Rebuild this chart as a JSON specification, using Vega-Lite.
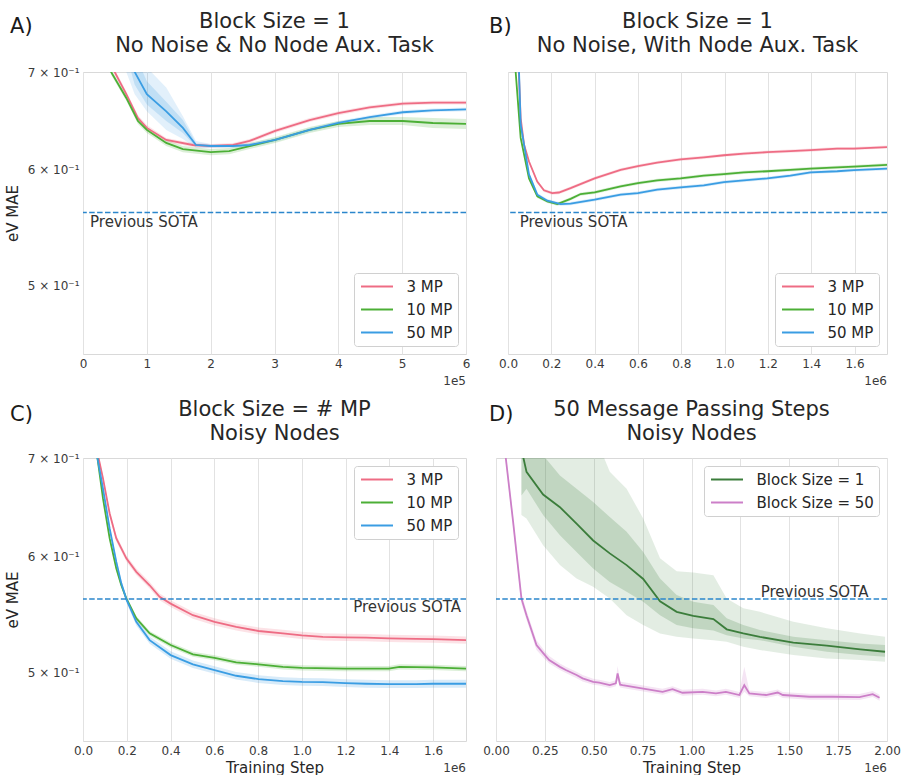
{
"$schema": "https://vega.github.io/schema/vega-lite/v6.json",
"padding": {"left": 4, "top": 10, "right": 5, "bottom": 5},
"background": "white",
"datasets": {
"A": [
{"s":"3 MP","x":0,"y":1.05,"lo":1.04,"hi":1.06},
{"s":"3 MP","x":25000,"y":0.82,"lo":0.815,"hi":0.825},
{"s":"3 MP","x":49600,"y":0.7,"lo":0.697,"hi":0.703},
{"s":"3 MP","x":67800,"y":0.676,"lo":0.673,"hi":0.679},
{"s":"3 MP","x":86100,"y":0.651,"lo":0.648,"hi":0.654},
{"s":"3 MP","x":100000,"y":0.641,"lo":0.638,"hi":0.644},
{"s":"3 MP","x":130400,"y":0.629,"lo":0.627,"hi":0.631},
{"s":"3 MP","x":172000,"y":0.624,"lo":0.622,"hi":0.626},
{"s":"3 MP","x":200000,"y":0.623,"lo":0.621,"hi":0.625},
{"s":"3 MP","x":235000,"y":0.624,"lo":0.622,"hi":0.626},
{"s":"3 MP","x":261000,"y":0.628,"lo":0.626,"hi":0.63},
{"s":"3 MP","x":301000,"y":0.638,"lo":0.636,"hi":0.64},
{"s":"3 MP","x":355000,"y":0.649,"lo":0.647,"hi":0.651},
{"s":"3 MP","x":400000,"y":0.656,"lo":0.654,"hi":0.658},
{"s":"3 MP","x":449000,"y":0.662,"lo":0.66,"hi":0.664},
{"s":"3 MP","x":501000,"y":0.666,"lo":0.664,"hi":0.668},
{"s":"3 MP","x":548000,"y":0.667,"lo":0.665,"hi":0.669},
{"s":"3 MP","x":600000,"y":0.667,"lo":0.665,"hi":0.669},
{"s":"10 MP","x":0,"y":1.05,"lo":1.04,"hi":1.06},
{"s":"10 MP","x":25000,"y":0.8,"lo":0.795,"hi":0.805},
{"s":"10 MP","x":44000,"y":0.7,"lo":0.697,"hi":0.703},
{"s":"10 MP","x":67800,"y":0.672,"lo":0.669,"hi":0.675},
{"s":"10 MP","x":86100,"y":0.648,"lo":0.645,"hi":0.651},
{"s":"10 MP","x":100000,"y":0.639,"lo":0.636,"hi":0.642},
{"s":"10 MP","x":130400,"y":0.626,"lo":0.623,"hi":0.629},
{"s":"10 MP","x":156500,"y":0.62,"lo":0.617,"hi":0.623},
{"s":"10 MP","x":200000,"y":0.617,"lo":0.614,"hi":0.62},
{"s":"10 MP","x":229000,"y":0.618,"lo":0.615,"hi":0.621},
{"s":"10 MP","x":261000,"y":0.623,"lo":0.62,"hi":0.626},
{"s":"10 MP","x":301000,"y":0.629,"lo":0.626,"hi":0.632},
{"s":"10 MP","x":355000,"y":0.639,"lo":0.636,"hi":0.642},
{"s":"10 MP","x":400000,"y":0.645,"lo":0.642,"hi":0.648},
{"s":"10 MP","x":449000,"y":0.648,"lo":0.644,"hi":0.652},
{"s":"10 MP","x":501000,"y":0.648,"lo":0.644,"hi":0.652},
{"s":"10 MP","x":548000,"y":0.646,"lo":0.641,"hi":0.651},
{"s":"10 MP","x":600000,"y":0.645,"lo":0.64,"hi":0.65},
{"s":"50 MP","x":0,"y":1.2,"lo":1.15,"hi":1.25},
{"s":"50 MP","x":50000,"y":0.8,"lo":0.76,"hi":0.86,"lo2":0.78,"hi2":0.83},
{"s":"50 MP","x":67800,"y":0.74,"lo":0.7,"hi":0.79,"lo2":0.72,"hi2":0.77},
{"s":"50 MP","x":81000,"y":0.7,"lo":0.676,"hi":0.74,"lo2":0.686,"hi2":0.72},
{"s":"50 MP","x":100000,"y":0.676,"lo":0.658,"hi":0.705,"lo2":0.665,"hi2":0.69},
{"s":"50 MP","x":130400,"y":0.658,"lo":0.639,"hi":0.683,"lo2":0.648,"hi2":0.668},
{"s":"50 MP","x":156500,"y":0.641,"lo":0.63,"hi":0.653,"lo2":0.636,"hi2":0.649},
{"s":"50 MP","x":177000,"y":0.624,"lo":0.621,"hi":0.628,"lo2":0.622,"hi2":0.626},
{"s":"50 MP","x":200000,"y":0.623,"lo":0.621,"hi":0.625},
{"s":"50 MP","x":235000,"y":0.623,"lo":0.621,"hi":0.625},
{"s":"50 MP","x":261000,"y":0.624,"lo":0.622,"hi":0.626},
{"s":"50 MP","x":301000,"y":0.629,"lo":0.627,"hi":0.631},
{"s":"50 MP","x":355000,"y":0.639,"lo":0.637,"hi":0.641},
{"s":"50 MP","x":400000,"y":0.646,"lo":0.644,"hi":0.648},
{"s":"50 MP","x":449000,"y":0.652,"lo":0.65,"hi":0.654},
{"s":"50 MP","x":501000,"y":0.657,"lo":0.655,"hi":0.659},
{"s":"50 MP","x":548000,"y":0.659,"lo":0.657,"hi":0.661},
{"s":"50 MP","x":600000,"y":0.66,"lo":0.658,"hi":0.662}
],
"B": [
{"s":"3 MP","x":0,"y":1.6,"lo":1.59,"hi":1.61},
{"s":"3 MP","x":50000,"y":0.7,"lo":0.698,"hi":0.702},
{"s":"3 MP","x":58500,"y":0.651,"lo":0.649,"hi":0.653},
{"s":"3 MP","x":74000,"y":0.6245,"lo":0.623,"hi":0.626},
{"s":"3 MP","x":97000,"y":0.608,"lo":0.6065,"hi":0.6095},
{"s":"3 MP","x":135000,"y":0.589,"lo":0.5875,"hi":0.5905},
{"s":"3 MP","x":166000,"y":0.581,"lo":0.5795,"hi":0.5825},
{"s":"3 MP","x":204000,"y":0.5785,"lo":0.577,"hi":0.58},
{"s":"3 MP","x":235000,"y":0.579,"lo":0.5775,"hi":0.5805},
{"s":"3 MP","x":289000,"y":0.583,"lo":0.5815,"hi":0.5845},
{"s":"3 MP","x":400000,"y":0.592,"lo":0.5905,"hi":0.5935},
{"s":"3 MP","x":520000,"y":0.6,"lo":0.5985,"hi":0.6015},
{"s":"3 MP","x":600000,"y":0.6035,"lo":0.602,"hi":0.605},
{"s":"3 MP","x":689000,"y":0.607,"lo":0.6055,"hi":0.6085},
{"s":"3 MP","x":797000,"y":0.61,"lo":0.6085,"hi":0.6115},
{"s":"3 MP","x":904000,"y":0.612,"lo":0.6105,"hi":0.6135},
{"s":"3 MP","x":997000,"y":0.614,"lo":0.6125,"hi":0.6155},
{"s":"3 MP","x":1089000,"y":0.6156,"lo":0.6141,"hi":0.6171},
{"s":"3 MP","x":1197000,"y":0.617,"lo":0.6155,"hi":0.6185},
{"s":"3 MP","x":1304000,"y":0.618,"lo":0.6165,"hi":0.6195},
{"s":"3 MP","x":1397000,"y":0.619,"lo":0.6175,"hi":0.6205},
{"s":"3 MP","x":1520000,"y":0.6205,"lo":0.619,"hi":0.622},
{"s":"3 MP","x":1597000,"y":0.6205,"lo":0.619,"hi":0.622},
{"s":"3 MP","x":1750000,"y":0.622,"lo":0.6205,"hi":0.6235},
{"s":"10 MP","x":0,"y":1.6,"lo":1.59,"hi":1.61},
{"s":"10 MP","x":35400,"y":0.7,"lo":0.698,"hi":0.702},
{"s":"10 MP","x":58500,"y":0.631,"lo":0.629,"hi":0.633},
{"s":"10 MP","x":97000,"y":0.592,"lo":0.5905,"hi":0.5935},
{"s":"10 MP","x":135400,"y":0.5755,"lo":0.574,"hi":0.577},
{"s":"10 MP","x":181500,"y":0.571,"lo":0.5695,"hi":0.5725},
{"s":"10 MP","x":227700,"y":0.5685,"lo":0.567,"hi":0.57},
{"s":"10 MP","x":289000,"y":0.5733,"lo":0.5718,"hi":0.5748},
{"s":"10 MP","x":335400,"y":0.5776,"lo":0.5761,"hi":0.5791},
{"s":"10 MP","x":400000,"y":0.5792,"lo":0.5777,"hi":0.5807},
{"s":"10 MP","x":520000,"y":0.5847,"lo":0.5832,"hi":0.5862},
{"s":"10 MP","x":600000,"y":0.5877,"lo":0.5862,"hi":0.5892},
{"s":"10 MP","x":689000,"y":0.5902,"lo":0.5887,"hi":0.5917},
{"s":"10 MP","x":797000,"y":0.592,"lo":0.5905,"hi":0.5935},
{"s":"10 MP","x":904000,"y":0.5946,"lo":0.5931,"hi":0.5961},
{"s":"10 MP","x":997000,"y":0.5961,"lo":0.5946,"hi":0.5976},
{"s":"10 MP","x":1089000,"y":0.5977,"lo":0.5962,"hi":0.5992},
{"s":"10 MP","x":1197000,"y":0.5987,"lo":0.5972,"hi":0.6002},
{"s":"10 MP","x":1304000,"y":0.6,"lo":0.5985,"hi":0.6015},
{"s":"10 MP","x":1397000,"y":0.6012,"lo":0.5997,"hi":0.6027},
{"s":"10 MP","x":1520000,"y":0.6024,"lo":0.6009,"hi":0.6039},
{"s":"10 MP","x":1597000,"y":0.6031,"lo":0.6016,"hi":0.6046},
{"s":"10 MP","x":1750000,"y":0.6047,"lo":0.6032,"hi":0.6062},
{"s":"50 MP","x":0,"y":1.6,"lo":1.59,"hi":1.61},
{"s":"50 MP","x":51000,"y":0.7,"lo":0.698,"hi":0.702},
{"s":"50 MP","x":58500,"y":0.6445,"lo":0.6425,"hi":0.6465},
{"s":"50 MP","x":97000,"y":0.5957,"lo":0.5942,"hi":0.5972},
{"s":"50 MP","x":135400,"y":0.577,"lo":0.5755,"hi":0.5785},
{"s":"50 MP","x":181500,"y":0.5716,"lo":0.5701,"hi":0.5731},
{"s":"50 MP","x":243000,"y":0.5685,"lo":0.567,"hi":0.57},
{"s":"50 MP","x":289000,"y":0.569,"lo":0.5675,"hi":0.5705},
{"s":"50 MP","x":400000,"y":0.5725,"lo":0.571,"hi":0.574},
{"s":"50 MP","x":520000,"y":0.577,"lo":0.5755,"hi":0.5785},
{"s":"50 MP","x":600000,"y":0.5785,"lo":0.577,"hi":0.58},
{"s":"50 MP","x":689000,"y":0.5816,"lo":0.5801,"hi":0.5831},
{"s":"50 MP","x":797000,"y":0.5837,"lo":0.5822,"hi":0.5852},
{"s":"50 MP","x":904000,"y":0.5856,"lo":0.5841,"hi":0.5871},
{"s":"50 MP","x":997000,"y":0.5886,"lo":0.5871,"hi":0.5901},
{"s":"50 MP","x":1089000,"y":0.5902,"lo":0.5887,"hi":0.5917},
{"s":"50 MP","x":1197000,"y":0.592,"lo":0.5905,"hi":0.5935},
{"s":"50 MP","x":1304000,"y":0.5946,"lo":0.5931,"hi":0.5961},
{"s":"50 MP","x":1397000,"y":0.5977,"lo":0.5962,"hi":0.5992},
{"s":"50 MP","x":1520000,"y":0.5987,"lo":0.5972,"hi":0.6002},
{"s":"50 MP","x":1597000,"y":0.5997,"lo":0.5982,"hi":0.6012},
{"s":"50 MP","x":1750000,"y":0.6012,"lo":0.5997,"hi":0.6027}
],
"C": [
{"s":"3 MP","x":0,"y":1.3,"lo":1.29,"hi":1.31},
{"s":"3 MP","x":68500,"y":0.703,"lo":0.7,"hi":0.706},
{"s":"3 MP","x":91300,"y":0.678,"lo":0.675,"hi":0.681},
{"s":"3 MP","x":121800,"y":0.6416,"lo":0.6386,"hi":0.6446},
{"s":"3 MP","x":152200,"y":0.617,"lo":0.614,"hi":0.62},
{"s":"3 MP","x":197900,"y":0.598,"lo":0.595,"hi":0.601},
{"s":"3 MP","x":243500,"y":0.5855,"lo":0.5825,"hi":0.5885},
{"s":"3 MP","x":304400,"y":0.5733,"lo":0.5703,"hi":0.5763},
{"s":"3 MP","x":350000,"y":0.563,"lo":0.56,"hi":0.566},
{"s":"3 MP","x":400300,"y":0.557,"lo":0.554,"hi":0.56},
{"s":"3 MP","x":502300,"y":0.547,"lo":0.544,"hi":0.55},
{"s":"3 MP","x":601200,"y":0.5413,"lo":0.5383,"hi":0.5443},
{"s":"3 MP","x":700000,"y":0.537,"lo":0.534,"hi":0.54},
{"s":"3 MP","x":802100,"y":0.5336,"lo":0.5306,"hi":0.5366},
{"s":"3 MP","x":913200,"y":0.5316,"lo":0.5286,"hi":0.5346},
{"s":"3 MP","x":1000000,"y":0.53,"lo":0.527,"hi":0.533},
{"s":"3 MP","x":1095900,"y":0.5287,"lo":0.5257,"hi":0.5317},
{"s":"3 MP","x":1197900,"y":0.5283,"lo":0.5253,"hi":0.5313},
{"s":"3 MP","x":1293800,"y":0.528,"lo":0.525,"hi":0.531},
{"s":"3 MP","x":1397300,"y":0.5274,"lo":0.5244,"hi":0.5304},
{"s":"3 MP","x":1522000,"y":0.527,"lo":0.524,"hi":0.53},
{"s":"3 MP","x":1598000,"y":0.5268,"lo":0.5238,"hi":0.5298},
{"s":"3 MP","x":1750000,"y":0.526,"lo":0.523,"hi":0.529},
{"s":"10 MP","x":0,"y":1.3,"lo":1.29,"hi":1.31},
{"s":"10 MP","x":66000,"y":0.7,"lo":0.697,"hi":0.703},
{"s":"10 MP","x":91300,"y":0.657,"lo":0.655,"hi":0.659},
{"s":"10 MP","x":121800,"y":0.617,"lo":0.615,"hi":0.619},
{"s":"10 MP","x":152200,"y":0.5886,"lo":0.5866,"hi":0.5906},
{"s":"10 MP","x":175000,"y":0.5733,"lo":0.5713,"hi":0.5753},
{"s":"10 MP","x":197900,"y":0.5616,"lo":0.5596,"hi":0.5636},
{"s":"10 MP","x":243500,"y":0.5443,"lo":0.5423,"hi":0.5463},
{"s":"10 MP","x":304400,"y":0.5316,"lo":0.5296,"hi":0.5336},
{"s":"10 MP","x":400300,"y":0.522,"lo":0.52,"hi":0.524},
{"s":"10 MP","x":502300,"y":0.5144,"lo":0.5124,"hi":0.5164},
{"s":"10 MP","x":601200,"y":0.5116,"lo":0.5096,"hi":0.5136},
{"s":"10 MP","x":700000,"y":0.508,"lo":0.506,"hi":0.51},
{"s":"10 MP","x":802100,"y":0.5064,"lo":0.5044,"hi":0.5084},
{"s":"10 MP","x":913200,"y":0.5044,"lo":0.5024,"hi":0.5064},
{"s":"10 MP","x":1000000,"y":0.5036,"lo":0.5016,"hi":0.5056},
{"s":"10 MP","x":1197900,"y":0.503,"lo":0.501,"hi":0.505},
{"s":"10 MP","x":1397300,"y":0.503,"lo":0.501,"hi":0.505},
{"s":"10 MP","x":1446000,"y":0.5044,"lo":0.5024,"hi":0.5064},
{"s":"10 MP","x":1598000,"y":0.504,"lo":0.502,"hi":0.506},
{"s":"10 MP","x":1750000,"y":0.503,"lo":0.501,"hi":0.505},
{"s":"50 MP","x":0,"y":1.3,"lo":1.29,"hi":1.31},
{"s":"50 MP","x":66000,"y":0.7,"lo":0.697,"hi":0.703},
{"s":"50 MP","x":91300,"y":0.667,"lo":0.664,"hi":0.67},
{"s":"50 MP","x":121800,"y":0.6267,"lo":0.6237,"hi":0.6297},
{"s":"50 MP","x":152200,"y":0.5947,"lo":0.5917,"hi":0.5977},
{"s":"50 MP","x":175000,"y":0.575,"lo":0.572,"hi":0.578},
{"s":"50 MP","x":197900,"y":0.561,"lo":0.558,"hi":0.564},
{"s":"50 MP","x":243500,"y":0.5413,"lo":0.5383,"hi":0.5443},
{"s":"50 MP","x":304400,"y":0.526,"lo":0.523,"hi":0.529},
{"s":"50 MP","x":400300,"y":0.5138,"lo":0.5108,"hi":0.5168},
{"s":"50 MP","x":502300,"y":0.5064,"lo":0.5034,"hi":0.5094},
{"s":"50 MP","x":601200,"y":0.5019,"lo":0.4989,"hi":0.5049},
{"s":"50 MP","x":700000,"y":0.4974,"lo":0.4944,"hi":0.5004},
{"s":"50 MP","x":802100,"y":0.4948,"lo":0.4918,"hi":0.4978},
{"s":"50 MP","x":913200,"y":0.4933,"lo":0.4903,"hi":0.4963},
{"s":"50 MP","x":1000000,"y":0.4927,"lo":0.4897,"hi":0.4957},
{"s":"50 MP","x":1095900,"y":0.4925,"lo":0.4895,"hi":0.4955},
{"s":"50 MP","x":1197900,"y":0.4917,"lo":0.4887,"hi":0.4947},
{"s":"50 MP","x":1293800,"y":0.4912,"lo":0.4882,"hi":0.4942},
{"s":"50 MP","x":1397300,"y":0.4909,"lo":0.4879,"hi":0.4939},
{"s":"50 MP","x":1522000,"y":0.4909,"lo":0.4879,"hi":0.4939},
{"s":"50 MP","x":1598000,"y":0.4912,"lo":0.4882,"hi":0.4942},
{"s":"50 MP","x":1750000,"y":0.4912,"lo":0.4882,"hi":0.4942}
],
"D": [
{"s":"Block Size = 1","x":130000,"y":0.71,"lo":0.64,"hi":0.8,"lo2":0.66,"hi2":0.76},
{"s":"Block Size = 1","x":156000,"y":0.685,"lo":0.6366,"hi":0.8,"lo2":0.667,"hi2":0.74},
{"s":"Block Size = 1","x":241000,"y":0.661,"lo":0.6105,"hi":0.8,"lo2":0.64,"hi2":0.703},
{"s":"Block Size = 1","x":327000,"y":0.648,"lo":0.5917,"hi":0.78,"lo2":0.62,"hi2":0.681},
{"s":"Block Size = 1","x":412000,"y":0.6316,"lo":0.5795,"hi":0.76,"lo2":0.604,"hi2":0.667},
{"s":"Block Size = 1","x":497000,"y":0.615,"lo":0.5719,"hi":0.73,"lo2":0.5886,"hi2":0.6533},
{"s":"Block Size = 1","x":582000,"y":0.6027,"lo":0.5616,"hi":0.685,"lo2":0.5763,"hi2":0.638},
{"s":"Block Size = 1","x":668000,"y":0.5917,"lo":0.547,"hi":0.667,"lo2":0.5674,"hi2":0.6234},
{"s":"Block Size = 1","x":753000,"y":0.579,"lo":0.5386,"hi":0.6366,"lo2":0.5586,"hi2":0.604},
{"s":"Block Size = 1","x":839000,"y":0.559,"lo":0.5316,"hi":0.598,"lo2":0.547,"hi2":0.5795},
{"s":"Block Size = 1","x":924000,"y":0.5499,"lo":0.5287,"hi":0.586,"lo2":0.5386,"hi2":0.5645},
{"s":"Block Size = 1","x":1009000,"y":0.5464,"lo":0.5274,"hi":0.585,"lo2":0.5358,"hi2":0.5586},
{"s":"Block Size = 1","x":1112000,"y":0.5436,"lo":0.526,"hi":0.5824,"lo2":0.534,"hi2":0.5557},
{"s":"Block Size = 1","x":1180000,"y":0.535,"lo":0.5246,"hi":0.5616,"lo2":0.53,"hi2":0.5443},
{"s":"Block Size = 1","x":1265000,"y":0.5316,"lo":0.5205,"hi":0.5529,"lo2":0.5274,"hi2":0.5386},
{"s":"Block Size = 1","x":1350000,"y":0.5287,"lo":0.5179,"hi":0.5499,"lo2":0.526,"hi2":0.5344},
{"s":"Block Size = 1","x":1521000,"y":0.524,"lo":0.5138,"hi":0.5413,"lo2":0.5205,"hi2":0.5287},
{"s":"Block Size = 1","x":1692000,"y":0.5215,"lo":0.5111,"hi":0.5358,"lo2":0.5165,"hi2":0.526},
{"s":"Block Size = 1","x":1863000,"y":0.5184,"lo":0.5098,"hi":0.5316,"lo2":0.5138,"hi2":0.5233},
{"s":"Block Size = 1","x":1990000,"y":0.5165,"lo":0.5085,"hi":0.5287,"lo2":0.5124,"hi2":0.522},
{"s":"Block Size = 50","x":20000,"y":0.85,"lo":0.84,"hi":0.86},
{"s":"Block Size = 50","x":50000,"y":0.7,"lo":0.695,"hi":0.705},
{"s":"Block Size = 50","x":87600,"y":0.6332,"lo":0.628,"hi":0.638},
{"s":"Block Size = 50","x":130000,"y":0.5616,"lo":0.557,"hi":0.566},
{"s":"Block Size = 50","x":156000,"y":0.547,"lo":0.543,"hi":0.551},
{"s":"Block Size = 50","x":207000,"y":0.522,"lo":0.518,"hi":0.526},
{"s":"Block Size = 50","x":250000,"y":0.5138,"lo":0.5105,"hi":0.517},
{"s":"Block Size = 50","x":272000,"y":0.5098,"lo":0.507,"hi":0.513},
{"s":"Block Size = 50","x":327000,"y":0.5044,"lo":0.502,"hi":0.507},
{"s":"Block Size = 50","x":357000,"y":0.5019,"lo":0.4995,"hi":0.5045},
{"s":"Block Size = 50","x":412000,"y":0.498,"lo":0.4955,"hi":0.5005},
{"s":"Block Size = 50","x":443000,"y":0.4954,"lo":0.493,"hi":0.498},
{"s":"Block Size = 50","x":497000,"y":0.4927,"lo":0.4905,"hi":0.495},
{"s":"Block Size = 50","x":528000,"y":0.492,"lo":0.4898,"hi":0.4942},
{"s":"Block Size = 50","x":582000,"y":0.4901,"lo":0.488,"hi":0.4925},
{"s":"Block Size = 50","x":613000,"y":0.4915,"lo":0.4893,"hi":0.494},
{"s":"Block Size = 50","x":622000,"y":0.4993,"lo":0.494,"hi":0.505},
{"s":"Block Size = 50","x":635000,"y":0.4905,"lo":0.4883,"hi":0.4928},
{"s":"Block Size = 50","x":647000,"y":0.4901,"lo":0.488,"hi":0.4925},
{"s":"Block Size = 50","x":746000,"y":0.4877,"lo":0.4855,"hi":0.49},
{"s":"Block Size = 50","x":852000,"y":0.485,"lo":0.4828,"hi":0.4873},
{"s":"Block Size = 50","x":903000,"y":0.487,"lo":0.4848,"hi":0.4893},
{"s":"Block Size = 50","x":954000,"y":0.4843,"lo":0.4821,"hi":0.4866},
{"s":"Block Size = 50","x":1057000,"y":0.485,"lo":0.4828,"hi":0.4873},
{"s":"Block Size = 50","x":1125000,"y":0.4838,"lo":0.4816,"hi":0.4861},
{"s":"Block Size = 50","x":1176000,"y":0.485,"lo":0.4828,"hi":0.4873},
{"s":"Block Size = 50","x":1245000,"y":0.4826,"lo":0.4804,"hi":0.4849},
{"s":"Block Size = 50","x":1270000,"y":0.4901,"lo":0.485,"hi":0.5045},
{"s":"Block Size = 50","x":1296000,"y":0.4838,"lo":0.4816,"hi":0.4861},
{"s":"Block Size = 50","x":1381000,"y":0.4826,"lo":0.4804,"hi":0.4849},
{"s":"Block Size = 50","x":1441000,"y":0.4845,"lo":0.4823,"hi":0.4868},
{"s":"Block Size = 50","x":1467000,"y":0.4826,"lo":0.4804,"hi":0.4849},
{"s":"Block Size = 50","x":1603000,"y":0.4813,"lo":0.4791,"hi":0.4836},
{"s":"Block Size = 50","x":1723000,"y":0.4813,"lo":0.4791,"hi":0.4836},
{"s":"Block Size = 50","x":1859000,"y":0.481,"lo":0.4788,"hi":0.4833},
{"s":"Block Size = 50","x":1927000,"y":0.4833,"lo":0.4811,"hi":0.4856},
{"s":"Block Size = 50","x":1962000,"y":0.4805,"lo":0.4783,"hi":0.4828}
]
},
"vconcat": [
{
"hconcat": [
{
"width": 383, "height": 282,
"title": {"text": ["Block Size = 1", "No Noise & No Node Aux. Task"], "offset": -40},
"layer": [
{"data": {"name": "A"}, "transform": [{"filter": "datum.s == '3 MP'"}], "mark": {"type": "area", "clip": true, "opacity": 0.2, "color": "#ee6c84"},
 "encoding": {
  "x": {"field": "x", "type": "quantitative", "scale": {"domain": [0, 600000]}, "axis": {"values": [0,100000,200000,300000,400000,500000,600000], "labelExpr": "format(datum.value/100000,'d')", "title": null}},
  "y": {"field": "lo", "type": "quantitative", "scale": {"type": "log", "domain": [0.449, 0.7]}, "axis": {"values": [0.5,0.6,0.7], "labelExpr": "format(datum.value*10,'d') + ' × 10⁻¹'", "title": "eV MAE"}},
  "y2": {"field": "hi"}}},
{"data": {"name": "A"}, "transform": [{"filter": "datum.s == '10 MP'"}], "mark": {"type": "area", "clip": true, "opacity": 0.2, "color": "#4caf36"},
 "encoding": {
  "x": {"field": "x", "type": "quantitative", "scale": {"domain": [0, 600000]}, "axis": {"values": [0,100000,200000,300000,400000,500000,600000], "labelExpr": "format(datum.value/100000,'d')", "title": null}},
  "y": {"field": "lo", "type": "quantitative", "scale": {"type": "log", "domain": [0.449, 0.7]}, "axis": {"values": [0.5,0.6,0.7], "labelExpr": "format(datum.value*10,'d') + ' × 10⁻¹'", "title": "eV MAE"}},
  "y2": {"field": "hi"}}},
{"data": {"name": "A"}, "transform": [{"filter": "datum.s == '50 MP'"}], "mark": {"type": "area", "clip": true, "opacity": 0.15, "color": "#3a9de3"},
 "encoding": {
  "x": {"field": "x", "type": "quantitative", "scale": {"domain": [0, 600000]}, "axis": {"values": [0,100000,200000,300000,400000,500000,600000], "labelExpr": "format(datum.value/100000,'d')", "title": null}},
  "y": {"field": "lo", "type": "quantitative", "scale": {"type": "log", "domain": [0.449, 0.7]}, "axis": {"values": [0.5,0.6,0.7], "labelExpr": "format(datum.value*10,'d') + ' × 10⁻¹'", "title": "eV MAE"}},
  "y2": {"field": "hi"}}},
{"data": {"name": "A"}, "transform": [{"filter": "datum.s == '50 MP' && isValid(datum.lo2)"}], "mark": {"type": "area", "clip": true, "opacity": 0.2, "color": "#3a9de3"},
 "encoding": {
  "x": {"field": "x", "type": "quantitative", "scale": {"domain": [0, 600000]}, "axis": {"values": [0,100000,200000,300000,400000,500000,600000], "labelExpr": "format(datum.value/100000,'d')", "title": null}},
  "y": {"field": "lo2", "type": "quantitative", "scale": {"type": "log", "domain": [0.449, 0.7]}, "axis": {"values": [0.5,0.6,0.7], "labelExpr": "format(datum.value*10,'d') + ' × 10⁻¹'", "title": "eV MAE"}},
  "y2": {"field": "hi2"}}},
{"data": {"name": "A"}, "mark": {"type": "line", "clip": true, "strokeWidth": 1.8},
 "encoding": {
  "x": {"field": "x", "type": "quantitative", "scale": {"domain": [0, 600000]}, "axis": {"values": [0,100000,200000,300000,400000,500000,600000], "labelExpr": "format(datum.value/100000,'d')", "title": null}},
  "y": {"field": "y", "type": "quantitative", "scale": {"type": "log", "domain": [0.449, 0.7]}, "axis": {"values": [0.5,0.6,0.7], "labelExpr": "format(datum.value*10,'d') + ' × 10⁻¹'", "title": "eV MAE"}},
  "color": {"field": "s", "type": "nominal", "scale": {"domain": ["3 MP","10 MP","50 MP"], "range": ["#ee6c84","#4caf36","#3a9de3"]}, "legend": {"title": null, "orient": "bottom-right", "symbolType": "M-2.13,0H2.13"}}}},
{"data": {"values": [{"t":"Previous SOTA"}]}, "mark": {"type": "rule", "strokeDash": [5.5, 2.4], "color": "#2b86cc", "strokeWidth": 1.4},
 "encoding": {"y": {"datum": 0.561, "type": "quantitative", "scale": {"type": "log", "domain": [0.449, 0.7]}, "axis": {"values": [0.5,0.6,0.7], "labelExpr": "format(datum.value*10,'d') + ' × 10⁻¹'", "title": "eV MAE"}}}},
{"data": {"values": [{"t":"Previous SOTA","x":11000,"y":0.561}]},
 "mark": {"type": "text", "baseline": "alphabetic", "align": "left", "dy": 14, "fontSize": 15},
 "encoding": {
  "x": {"field": "x", "type": "quantitative", "scale": {"domain": [0, 600000]}, "axis": {"values": [0,100000,200000,300000,400000,500000,600000], "labelExpr": "format(datum.value/100000,'d')", "title": null}},
  "y": {"field": "y", "type": "quantitative", "scale": {"type": "log", "domain": [0.449, 0.7]}, "axis": {"values": [0.5,0.6,0.7], "labelExpr": "format(datum.value*10,'d') + ' × 10⁻¹'", "title": "eV MAE"}},
  "text": {"field": "t"}}},
{"data": {"values": [{"t":"A)","x":-114200,"y":0.7445}]},
 "mark": {"type": "text", "baseline": "alphabetic", "align": "left", "fontSize": 21, "color": "#1a1a1a"},
 "encoding": {
  "x": {"field": "x", "type": "quantitative", "scale": {"domain": [0, 600000]}, "axis": {"values": [0,100000,200000,300000,400000,500000,600000], "labelExpr": "format(datum.value/100000,'d')", "title": null}},
  "y": {"field": "y", "type": "quantitative", "scale": {"type": "log", "domain": [0.449, 0.7]}, "axis": {"values": [0.5,0.6,0.7], "labelExpr": "format(datum.value*10,'d') + ' × 10⁻¹'", "title": "eV MAE"}},
  "text": {"field": "t"}}},
{"data": {"values": [{"t":"1e5","x":600000,"y":0.4274}]},
 "mark": {"type": "text", "baseline": "alphabetic", "align": "right", "fontSize": 12, "color": "#3a3a3a"},
 "encoding": {
  "x": {"field": "x", "type": "quantitative", "scale": {"domain": [0, 600000]}, "axis": {"values": [0,100000,200000,300000,400000,500000,600000], "labelExpr": "format(datum.value/100000,'d')", "title": null}},
  "y": {"field": "y", "type": "quantitative", "scale": {"type": "log", "domain": [0.449, 0.7]}, "axis": {"values": [0.5,0.6,0.7], "labelExpr": "format(datum.value*10,'d') + ' × 10⁻¹'", "title": "eV MAE"}},
  "text": {"field": "t"}}}
]
},
{
"width": 379, "height": 282,
"title": {"text": ["Block Size = 1", "No Noise, With Node Aux. Task"], "offset": -40},
"layer": [
{"data": {"name": "B"}, "transform": [{"filter": "datum.s == '3 MP'"}], "mark": {"type": "area", "clip": true, "opacity": 0.2, "color": "#ee6c84"},
 "encoding": {
  "x": {"field": "x", "type": "quantitative", "scale": {"domain": [0, 1750000]}, "axis": {"values": [0,200000,400000,600000,800000,1000000,1200000,1400000,1600000], "labelExpr": "format(datum.value/1000000,'.1f')", "title": null}},
  "y": {"field": "lo", "type": "quantitative", "scale": {"type": "log", "domain": [0.449, 0.7]}, "axis": {"values": [0.5,0.6,0.7], "labels": false, "title": null}},
  "y2": {"field": "hi"}}},
{"data": {"name": "B"}, "transform": [{"filter": "datum.s == '10 MP'"}], "mark": {"type": "area", "clip": true, "opacity": 0.2, "color": "#4caf36"},
 "encoding": {
  "x": {"field": "x", "type": "quantitative", "scale": {"domain": [0, 1750000]}, "axis": {"values": [0,200000,400000,600000,800000,1000000,1200000,1400000,1600000], "labelExpr": "format(datum.value/1000000,'.1f')", "title": null}},
  "y": {"field": "lo", "type": "quantitative", "scale": {"type": "log", "domain": [0.449, 0.7]}, "axis": {"values": [0.5,0.6,0.7], "labels": false, "title": null}},
  "y2": {"field": "hi"}}},
{"data": {"name": "B"}, "transform": [{"filter": "datum.s == '50 MP'"}], "mark": {"type": "area", "clip": true, "opacity": 0.2, "color": "#3a9de3"},
 "encoding": {
  "x": {"field": "x", "type": "quantitative", "scale": {"domain": [0, 1750000]}, "axis": {"values": [0,200000,400000,600000,800000,1000000,1200000,1400000,1600000], "labelExpr": "format(datum.value/1000000,'.1f')", "title": null}},
  "y": {"field": "lo", "type": "quantitative", "scale": {"type": "log", "domain": [0.449, 0.7]}, "axis": {"values": [0.5,0.6,0.7], "labels": false, "title": null}},
  "y2": {"field": "hi"}}},
{"data": {"name": "B"}, "mark": {"type": "line", "clip": true, "strokeWidth": 1.8},
 "encoding": {
  "x": {"field": "x", "type": "quantitative", "scale": {"domain": [0, 1750000]}, "axis": {"values": [0,200000,400000,600000,800000,1000000,1200000,1400000,1600000], "labelExpr": "format(datum.value/1000000,'.1f')", "title": null}},
  "y": {"field": "y", "type": "quantitative", "scale": {"type": "log", "domain": [0.449, 0.7]}, "axis": {"values": [0.5,0.6,0.7], "labels": false, "title": null}},
  "color": {"field": "s", "type": "nominal", "scale": {"domain": ["3 MP","10 MP","50 MP"], "range": ["#ee6c84","#4caf36","#3a9de3"]}, "legend": {"title": null, "orient": "bottom-right", "symbolType": "M-2.13,0H2.13"}}}},
{"data": {"values": [{"t":"Previous SOTA"}]}, "mark": {"type": "rule", "strokeDash": [5.5, 2.4], "color": "#2b86cc", "strokeWidth": 1.4},
 "encoding": {"y": {"datum": 0.561, "type": "quantitative", "scale": {"type": "log", "domain": [0.449, 0.7]}, "axis": {"values": [0.5,0.6,0.7], "labels": false, "title": null}}}},
{"data": {"values": [{"t":"Previous SOTA","x":54000,"y":0.561}]},
 "mark": {"type": "text", "baseline": "alphabetic", "align": "left", "dy": 14, "fontSize": 15},
 "encoding": {
  "x": {"field": "x", "type": "quantitative", "scale": {"domain": [0, 1750000]}, "axis": {"values": [0,200000,400000,600000,800000,1000000,1200000,1400000,1600000], "labelExpr": "format(datum.value/1000000,'.1f')", "title": null}},
  "y": {"field": "y", "type": "quantitative", "scale": {"type": "log", "domain": [0.449, 0.7]}, "axis": {"values": [0.5,0.6,0.7], "labels": false, "title": null}},
  "text": {"field": "t"}}},
{"data": {"values": [{"t":"B)","x":-87700,"y":0.7445}]},
 "mark": {"type": "text", "baseline": "alphabetic", "align": "left", "fontSize": 21, "color": "#1a1a1a"},
 "encoding": {
  "x": {"field": "x", "type": "quantitative", "scale": {"domain": [0, 1750000]}, "axis": {"values": [0,200000,400000,600000,800000,1000000,1200000,1400000,1600000], "labelExpr": "format(datum.value/1000000,'.1f')", "title": null}},
  "y": {"field": "y", "type": "quantitative", "scale": {"type": "log", "domain": [0.449, 0.7]}, "axis": {"values": [0.5,0.6,0.7], "labels": false, "title": null}},
  "text": {"field": "t"}}},
{"data": {"values": [{"t":"1e6","x":1750000,"y":0.4274}]},
 "mark": {"type": "text", "baseline": "alphabetic", "align": "right", "fontSize": 12, "color": "#3a3a3a"},
 "encoding": {
  "x": {"field": "x", "type": "quantitative", "scale": {"domain": [0, 1750000]}, "axis": {"values": [0,200000,400000,600000,800000,1000000,1200000,1400000,1600000], "labelExpr": "format(datum.value/1000000,'.1f')", "title": null}},
  "y": {"field": "y", "type": "quantitative", "scale": {"type": "log", "domain": [0.449, 0.7]}, "axis": {"values": [0.5,0.6,0.7], "labels": false, "title": null}},
  "text": {"field": "t"}}}
]
}
],
"spacing": 42, "bounds": "flush",
"resolve": {"scale": {"color": "independent", "x": "independent", "y": "independent"}, "legend": {"color": "independent"}}
},
{
"hconcat": [
{
"width": 383, "height": 283,
"title": {"text": ["Block Size = # MP", "Noisy Nodes"], "offset": -39.5},
"layer": [
{"data": {"name": "C"}, "transform": [{"filter": "datum.s == '3 MP'"}], "mark": {"type": "area", "clip": true, "opacity": 0.2, "color": "#ee6c84"},
 "encoding": {
  "x": {"field": "x", "type": "quantitative", "scale": {"domain": [0, 1750000]}, "axis": {"values": [0,200000,400000,600000,800000,1000000,1200000,1400000,1600000], "labelExpr": "format(datum.value/1000000,'.1f')", "title": "Training Step"}},
  "y": {"field": "lo", "type": "quantitative", "scale": {"type": "log", "domain": [0.449, 0.7]}, "axis": {"values": [0.5,0.6,0.7], "labelExpr": "format(datum.value*10,'d') + ' × 10⁻¹'", "title": "eV MAE"}},
  "y2": {"field": "hi"}}},
{"data": {"name": "C"}, "transform": [{"filter": "datum.s == '10 MP'"}], "mark": {"type": "area", "clip": true, "opacity": 0.2, "color": "#4caf36"},
 "encoding": {
  "x": {"field": "x", "type": "quantitative", "scale": {"domain": [0, 1750000]}, "axis": {"values": [0,200000,400000,600000,800000,1000000,1200000,1400000,1600000], "labelExpr": "format(datum.value/1000000,'.1f')", "title": "Training Step"}},
  "y": {"field": "lo", "type": "quantitative", "scale": {"type": "log", "domain": [0.449, 0.7]}, "axis": {"values": [0.5,0.6,0.7], "labelExpr": "format(datum.value*10,'d') + ' × 10⁻¹'", "title": "eV MAE"}},
  "y2": {"field": "hi"}}},
{"data": {"name": "C"}, "transform": [{"filter": "datum.s == '50 MP'"}], "mark": {"type": "area", "clip": true, "opacity": 0.2, "color": "#3a9de3"},
 "encoding": {
  "x": {"field": "x", "type": "quantitative", "scale": {"domain": [0, 1750000]}, "axis": {"values": [0,200000,400000,600000,800000,1000000,1200000,1400000,1600000], "labelExpr": "format(datum.value/1000000,'.1f')", "title": "Training Step"}},
  "y": {"field": "lo", "type": "quantitative", "scale": {"type": "log", "domain": [0.449, 0.7]}, "axis": {"values": [0.5,0.6,0.7], "labelExpr": "format(datum.value*10,'d') + ' × 10⁻¹'", "title": "eV MAE"}},
  "y2": {"field": "hi"}}},
{"data": {"name": "C"}, "mark": {"type": "line", "clip": true, "strokeWidth": 1.8},
 "encoding": {
  "x": {"field": "x", "type": "quantitative", "scale": {"domain": [0, 1750000]}, "axis": {"values": [0,200000,400000,600000,800000,1000000,1200000,1400000,1600000], "labelExpr": "format(datum.value/1000000,'.1f')", "title": "Training Step"}},
  "y": {"field": "y", "type": "quantitative", "scale": {"type": "log", "domain": [0.449, 0.7]}, "axis": {"values": [0.5,0.6,0.7], "labelExpr": "format(datum.value*10,'d') + ' × 10⁻¹'", "title": "eV MAE"}},
  "color": {"field": "s", "type": "nominal", "scale": {"domain": ["3 MP","10 MP","50 MP"], "range": ["#ee6c84","#4caf36","#3a9de3"]}, "legend": {"title": null, "orient": "top-right", "symbolType": "M-2.13,0H2.13"}}}},
{"data": {"values": [{"t":"Previous SOTA"}]}, "mark": {"type": "rule", "strokeDash": [5.5, 2.4], "color": "#2b86cc", "strokeWidth": 1.4},
 "encoding": {"y": {"datum": 0.561, "type": "quantitative", "scale": {"type": "log", "domain": [0.449, 0.7]}, "axis": {"values": [0.5,0.6,0.7], "labelExpr": "format(datum.value*10,'d') + ' × 10⁻¹'", "title": "eV MAE"}}}},
{"data": {"values": [{"t":"Previous SOTA","x":1727000,"y":0.561}]},
 "mark": {"type": "text", "baseline": "alphabetic", "align": "right", "dy": 13.4, "fontSize": 15},
 "encoding": {
  "x": {"field": "x", "type": "quantitative", "scale": {"domain": [0, 1750000]}, "axis": {"values": [0,200000,400000,600000,800000,1000000,1200000,1400000,1600000], "labelExpr": "format(datum.value/1000000,'.1f')", "title": "Training Step"}},
  "y": {"field": "y", "type": "quantitative", "scale": {"type": "log", "domain": [0.449, 0.7]}, "axis": {"values": [0.5,0.6,0.7], "labelExpr": "format(datum.value*10,'d') + ' × 10⁻¹'", "title": "eV MAE"}},
  "text": {"field": "t"}}},
{"data": {"values": [{"t":"C)","x":-333300,"y":0.7418}]},
 "mark": {"type": "text", "baseline": "alphabetic", "align": "left", "fontSize": 21, "color": "#1a1a1a"},
 "encoding": {
  "x": {"field": "x", "type": "quantitative", "scale": {"domain": [0, 1750000]}, "axis": {"values": [0,200000,400000,600000,800000,1000000,1200000,1400000,1600000], "labelExpr": "format(datum.value/1000000,'.1f')", "title": "Training Step"}},
  "y": {"field": "y", "type": "quantitative", "scale": {"type": "log", "domain": [0.449, 0.7]}, "axis": {"values": [0.5,0.6,0.7], "labelExpr": "format(datum.value*10,'d') + ' × 10⁻¹'", "title": "eV MAE"}},
  "text": {"field": "t"}}},
{"data": {"values": [{"t":"1e6","x":1750000,"y":0.4275}]},
 "mark": {"type": "text", "baseline": "alphabetic", "align": "right", "fontSize": 12, "color": "#3a3a3a"},
 "encoding": {
  "x": {"field": "x", "type": "quantitative", "scale": {"domain": [0, 1750000]}, "axis": {"values": [0,200000,400000,600000,800000,1000000,1200000,1400000,1600000], "labelExpr": "format(datum.value/1000000,'.1f')", "title": "Training Step"}},
  "y": {"field": "y", "type": "quantitative", "scale": {"type": "log", "domain": [0.449, 0.7]}, "axis": {"values": [0.5,0.6,0.7], "labelExpr": "format(datum.value*10,'d') + ' × 10⁻¹'", "title": "eV MAE"}},
  "text": {"field": "t"}}}
]
},
{
"width": 391, "height": 283,
"title": {"text": ["50 Message Passing Steps", "Noisy Nodes"], "offset": -39.5},
"layer": [
{"data": {"name": "D"}, "transform": [{"filter": "datum.s == 'Block Size = 1'"}], "mark": {"type": "area", "clip": true, "opacity": 0.14, "color": "#3b7d3b"},
 "encoding": {
  "x": {"field": "x", "type": "quantitative", "scale": {"domain": [0, 2000000]}, "axis": {"values": [0,250000,500000,750000,1000000,1250000,1500000,1750000,2000000], "labelExpr": "format(datum.value/1000000,'.2f')", "title": "Training Step"}},
  "y": {"field": "lo", "type": "quantitative", "scale": {"type": "log", "domain": [0.449, 0.7]}, "axis": {"values": [0.5,0.6,0.7], "labels": false, "title": null}},
  "y2": {"field": "hi"}}},
{"data": {"name": "D"}, "transform": [{"filter": "datum.s == 'Block Size = 1'"}], "mark": {"type": "area", "clip": true, "opacity": 0.2, "color": "#3b7d3b"},
 "encoding": {
  "x": {"field": "x", "type": "quantitative", "scale": {"domain": [0, 2000000]}, "axis": {"values": [0,250000,500000,750000,1000000,1250000,1500000,1750000,2000000], "labelExpr": "format(datum.value/1000000,'.2f')", "title": "Training Step"}},
  "y": {"field": "lo2", "type": "quantitative", "scale": {"type": "log", "domain": [0.449, 0.7]}, "axis": {"values": [0.5,0.6,0.7], "labels": false, "title": null}},
  "y2": {"field": "hi2"}}},
{"data": {"name": "D"}, "transform": [{"filter": "datum.s == 'Block Size = 50'"}], "mark": {"type": "area", "clip": true, "opacity": 0.2, "color": "#cc7fc8"},
 "encoding": {
  "x": {"field": "x", "type": "quantitative", "scale": {"domain": [0, 2000000]}, "axis": {"values": [0,250000,500000,750000,1000000,1250000,1500000,1750000,2000000], "labelExpr": "format(datum.value/1000000,'.2f')", "title": "Training Step"}},
  "y": {"field": "lo", "type": "quantitative", "scale": {"type": "log", "domain": [0.449, 0.7]}, "axis": {"values": [0.5,0.6,0.7], "labels": false, "title": null}},
  "y2": {"field": "hi"}}},
{"data": {"name": "D"}, "mark": {"type": "line", "clip": true, "strokeWidth": 1.8},
 "encoding": {
  "x": {"field": "x", "type": "quantitative", "scale": {"domain": [0, 2000000]}, "axis": {"values": [0,250000,500000,750000,1000000,1250000,1500000,1750000,2000000], "labelExpr": "format(datum.value/1000000,'.2f')", "title": "Training Step"}},
  "y": {"field": "y", "type": "quantitative", "scale": {"type": "log", "domain": [0.449, 0.7]}, "axis": {"values": [0.5,0.6,0.7], "labels": false, "title": null}},
  "color": {"field": "s", "type": "nominal", "scale": {"domain": ["Block Size = 1","Block Size = 50"], "range": ["#3b7d3b","#cc7fc8"]}, "legend": {"title": null, "orient": "top-right", "symbolType": "M-2.13,0H2.13"}}}},
{"data": {"values": [{"t":"Previous SOTA"}]}, "mark": {"type": "rule", "strokeDash": [5.5, 2.4], "color": "#2b86cc", "strokeWidth": 1.4},
 "encoding": {"y": {"datum": 0.561, "type": "quantitative", "scale": {"type": "log", "domain": [0.449, 0.7]}, "axis": {"values": [0.5,0.6,0.7], "labels": false, "title": null}}}},
{"data": {"values": [{"t":"Previous SOTA","x":1905000,"y":0.561}]},
 "mark": {"type": "text", "baseline": "alphabetic", "align": "right", "dy": -2.5, "fontSize": 15},
 "encoding": {
  "x": {"field": "x", "type": "quantitative", "scale": {"domain": [0, 2000000]}, "axis": {"values": [0,250000,500000,750000,1000000,1250000,1500000,1750000,2000000], "labelExpr": "format(datum.value/1000000,'.2f')", "title": "Training Step"}},
  "y": {"field": "y", "type": "quantitative", "scale": {"type": "log", "domain": [0.449, 0.7]}, "axis": {"values": [0.5,0.6,0.7], "labels": false, "title": null}},
  "text": {"field": "t"}}},
{"data": {"values": [{"t":"D)","x":-35800,"y":0.7418}]},
 "mark": {"type": "text", "baseline": "alphabetic", "align": "left", "fontSize": 21, "color": "#1a1a1a"},
 "encoding": {
  "x": {"field": "x", "type": "quantitative", "scale": {"domain": [0, 2000000]}, "axis": {"values": [0,250000,500000,750000,1000000,1250000,1500000,1750000,2000000], "labelExpr": "format(datum.value/1000000,'.2f')", "title": "Training Step"}},
  "y": {"field": "y", "type": "quantitative", "scale": {"type": "log", "domain": [0.449, 0.7]}, "axis": {"values": [0.5,0.6,0.7], "labels": false, "title": null}},
  "text": {"field": "t"}}},
{"data": {"values": [{"t":"1e6","x":2000000,"y":0.4275}]},
 "mark": {"type": "text", "baseline": "alphabetic", "align": "right", "fontSize": 12, "color": "#3a3a3a"},
 "encoding": {
  "x": {"field": "x", "type": "quantitative", "scale": {"domain": [0, 2000000]}, "axis": {"values": [0,250000,500000,750000,1000000,1250000,1500000,1750000,2000000], "labelExpr": "format(datum.value/1000000,'.2f')", "title": "Training Step"}},
  "y": {"field": "y", "type": "quantitative", "scale": {"type": "log", "domain": [0.449, 0.7]}, "axis": {"values": [0.5,0.6,0.7], "labels": false, "title": null}},
  "text": {"field": "t"}}}
]
}
],
"spacing": 30, "bounds": "flush",
"resolve": {"scale": {"color": "independent", "x": "independent", "y": "independent"}, "legend": {"color": "independent"}}
}
],
"spacing": 10,
"resolve": {"scale": {"color": "independent", "x": "independent", "y": "independent"}, "legend": {"color": "independent"}},
"config": {
 "font": "DejaVu Sans",
 "view": {"stroke": "#d9d9d9", "strokeWidth": 1},
 "text": {"color": "#333333", "font": "DejaVu Sans"},
 "title": {"fontSize": 21, "fontWeight": "normal", "color": "#262626", "lineHeight": 24, "anchor": "middle", "font": "DejaVu Sans"},
 "axis": {"domain": false, "ticks": false, "labelFont": "DejaVu Sans", "labelFontSize": 12, "labelColor": "#3a3a3a", "labelPadding": 4, "labelFlush": false, "titleFont": "DejaVu Sans", "titleFontSize": 15, "titleFontWeight": "normal", "titleColor": "#262626", "gridColor": "#e2e2e2", "gridWidth": 1},
 "axisX": {"grid": true, "titlePadding": 4},
 "axisY": {"grid": false, "labelFontSize": 12, "titlePadding": 7},
 "legend": {"symbolSize": 225, "symbolStrokeWidth": 2, "labelFontSize": 15, "labelColor": "#262626", "labelFont": "DejaVu Sans", "padding": 5, "rowPadding": 6, "labelOffset": 21, "symbolOffset": 9.5, "strokeColor": "#d0d0d0", "fillColor": "#ffffff", "cornerRadius": 3, "offset": 8}
}
}
